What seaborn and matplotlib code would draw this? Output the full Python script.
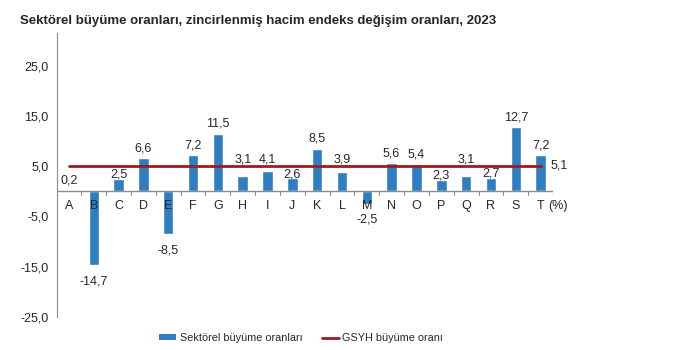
import matplotlib
matplotlib.use("Agg")
import matplotlib.pyplot as plt
import seaborn as sns
from matplotlib.patches import Patch
from matplotlib.lines import Line2D

# data
sectors = list("ABCDEFGHIJKLMNOPQRST")
growth = [0.2, -14.7, 2.5, 6.6, -8.5, 7.2, 11.5, 3.1, 4.1, 2.6,
          8.5, 3.9, -2.5, 5.6, 5.4, 2.3, 3.1, 2.7, 12.7, 7.2]
gdp_growth = 5.1
yticks = [-25, -15, -5, 5, 15, 25]

BAR = "#2E7EC1"
RED = "#9E1B20"
GRAY = "#8C8C8C"


def fmt(v):
    return f"{v:.1f}".replace(".", ",")


def label_y(v):
    # mimic excel: labels that would sit on the GDP line get nudged off it
    y = v + 2.0
    if abs(y - gdp_growth) < 2:
        y = v + 0.8 if v < 3 else gdp_growth + 1.3
    return y


sns.set_style("white")
plt.rcParams["font.family"] = ["Liberation Sans", "DejaVu Sans"]

fig = plt.figure(figsize=(6.87, 3.5), dpi=100)
ax = fig.add_axes([57 / 687, 33 / 350, 496 / 687, 284 / 350])

sns.barplot(x=sectors, y=growth, color=BAR, width=0.42, saturation=1, ax=ax)
ax.plot(range(len(sectors)), [gdp_growth] * len(sectors), color=RED, lw=2, zorder=3)

# value labels
for i, v in enumerate(growth):
    if v >= 0:
        ax.text(i, label_y(v), fmt(v), ha="center", va="center", fontsize=9, zorder=4)
    else:
        ax.text(i, v - 2.0, fmt(v), ha="center", va="top", fontsize=9)
ax.text(len(sectors) - 0.6, gdp_growth, fmt(gdp_growth), ha="left", va="center", fontsize=9)

# category letters below zero line
for i, s in enumerate(sectors):
    ax.text(i, -1.8, s, ha="center", va="top", fontsize=9)
ax.text(len(sectors) - 0.7, -1.8, "(%)", ha="left", va="top", fontsize=9)

# zero line with boundary ticks
ax.axhline(0, color=GRAY, lw=1, zorder=1)
for b in range(len(sectors) + 1):
    ax.plot([b - 0.5, b - 0.5], [0, -0.8], color=GRAY, lw=0.8)

ax.set_xlim(-0.48, len(sectors) - 0.5)
ax.set_ylim(-25, 31.5)
ax.set_yticks(yticks)
ax.set_yticklabels([fmt(t) for t in yticks], fontsize=9)
ax.set_xticks([])
ax.tick_params(axis="y", length=0, pad=6)
for s in ["top", "right", "bottom"]:
    ax.spines[s].set_visible(False)
ax.spines["left"].set_color(GRAY)

fig.text(20 / 687, 1 - 21 / 350, "Sektörel büyüme oranları, zincirlenmiş hacim endeks değişim oranları, 2023",
         fontsize=9.5, fontweight="bold", va="center")

handles = [Patch(facecolor=BAR, edgecolor="none", label="Sektörel büyüme oranları"),
           Line2D([], [], color=RED, lw=2, label="GSYH büyüme oranı")]
fig.legend(handles=handles, loc="center", bbox_to_anchor=(301 / 687, 1 - 338 / 350), ncol=2,
           frameon=False, fontsize=7.8, handlelength=1.6, handleheight=0.4,
           handletextpad=0.3, columnspacing=1.8)

fig.savefig("out.png", dpi=100)
